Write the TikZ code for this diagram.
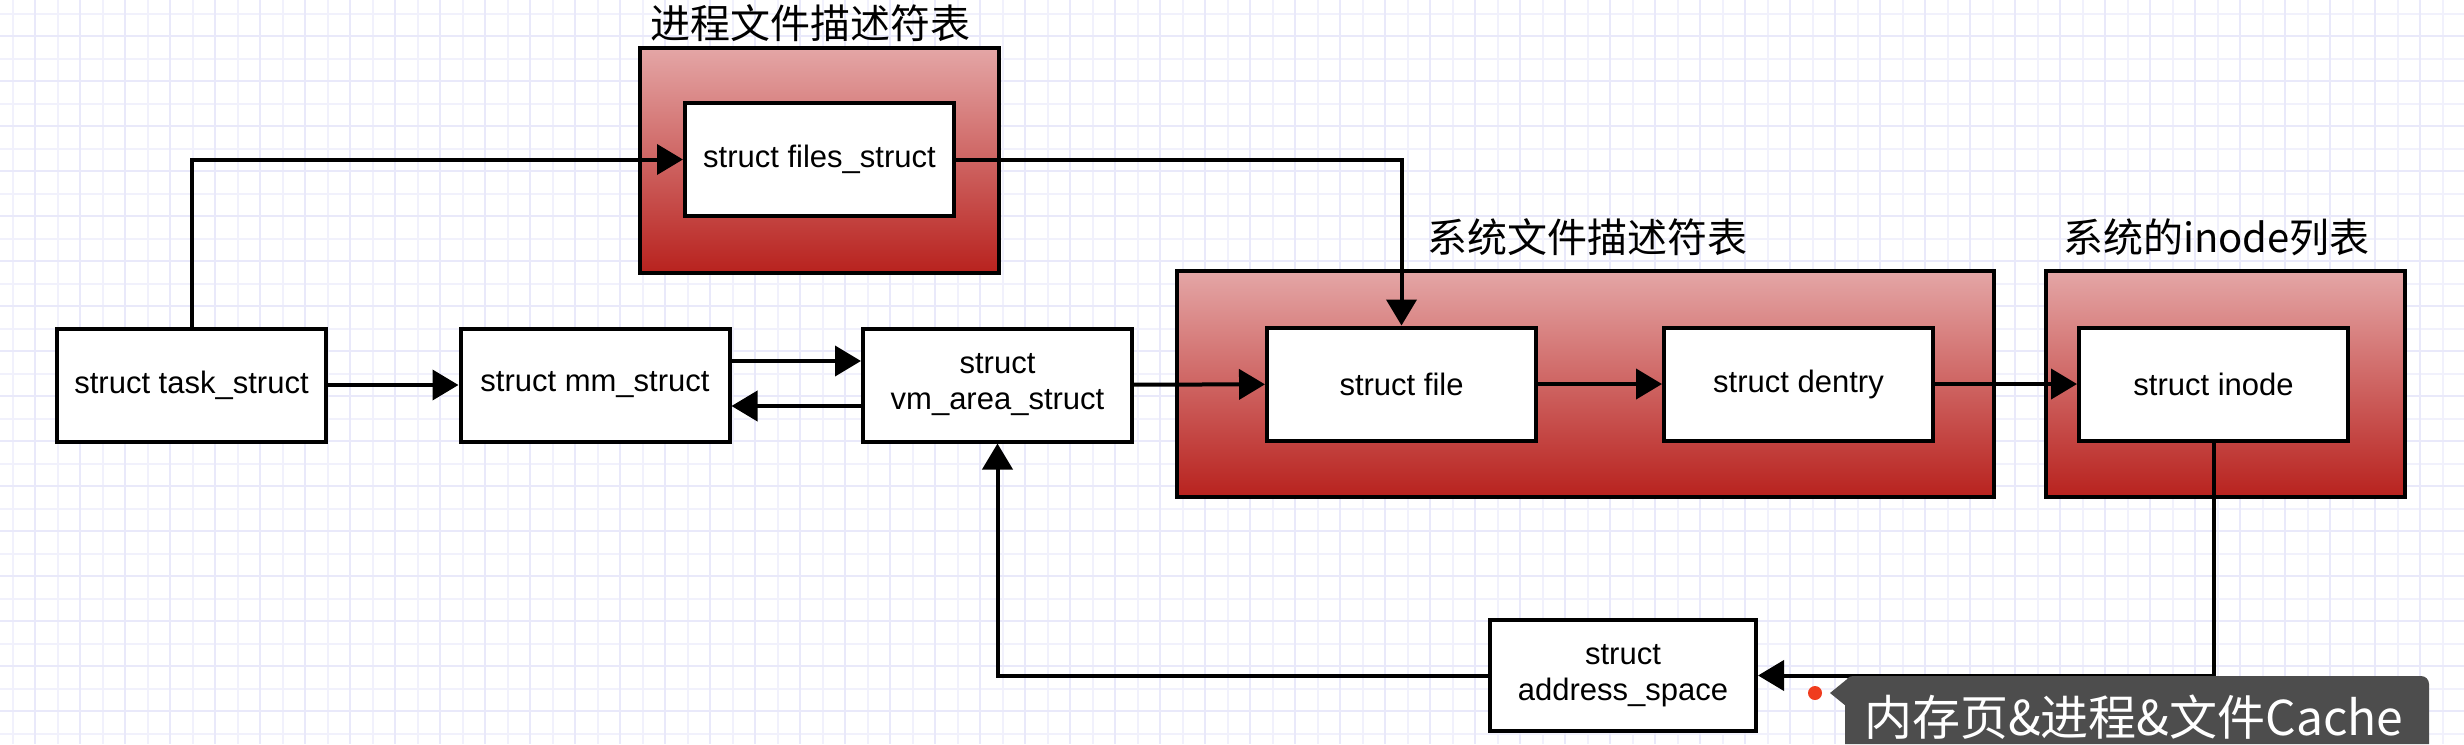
\documentclass[tikz,border=0pt]{standalone}
\usepackage{fontspec}
\setmainfont{Liberation Sans}
\newfontfamily\cjk{Noto Sans CJK SC}
\usetikzlibrary{arrows.meta}
\definecolor{gridminor}{RGB}{241,241,252}
\definecolor{gridmajor}{RGB}{233,233,250}
\definecolor{redtop}{RGB}{228,166,166}
\definecolor{redbot}{RGB}{184,34,30}
\definecolor{tipgray}{RGB}{77,77,77}
\definecolor{dotred}{RGB}{240,60,30}
\begin{document}
\begin{tikzpicture}[x=1pt,y=-1pt,
  box/.style={draw=black, line width=4pt, fill=white, minimum width=269pt, minimum height=113pt, inner sep=0pt, font=\fontsize{31}{36}\selectfont, align=center},
  group/.style={draw=black, line width=4pt, top color=redtop, bottom color=redbot, inner sep=0pt},
  title/.style={font=\cjk\fontsize{40}{44}\selectfont, anchor=south, inner sep=0pt},
  arr/.style={line width=4pt, -{Triangle[length=26pt,width=30pt]}},
  gmin/.style={draw=gridminor, line width=2pt},
  gmaj/.style={draw=gridmajor, line width=2pt}
]
\useasboundingbox (0,0) rectangle (2464,744);
\fill[white] (0,0) rectangle (2464,744);
% grid
\foreach \x in {12.5,57.5,...,2464} \draw[gmin] (\x,0) -- (\x,744);
\foreach \y in {13.5,58.5,...,744} \draw[gmin] (0,\y) -- (2464,\y);
\foreach \x in {35,80,...,2464} \draw[gmaj] (\x,0) -- (\x,744);
\foreach \y in {36,81,...,744} \draw[gmaj] (0,\y) -- (2464,\y);

% groups
\node[group, minimum width=359pt, minimum height=225pt] (g1) at (819.5,160.5) {};
\node[group, minimum width=817pt, minimum height=226pt] (g2) at (1585.5,384) {};
\node[group, minimum width=359pt, minimum height=226pt] (g3) at (2225.5,384) {};
\node[title] (t1) at ([xshift=-9pt,yshift=4pt]g1.north) {进程文件描述符表};
\node[title] (t2) at ([xshift=2pt,yshift=13pt]g2.north) {系统文件描述符表};
\node[title] (t3) at ([xshift=-9pt,yshift=13pt]g3.north) {系统的inode列表};

% boxes
\node[box] (task) at (191.5,385) {struct task\_struct};
\node[box] (mm) at (595,385) {struct mm\_struct};
\node[box] (vm) at (997.5,385) {struct\\vm\_area\_struct};
\node[box] (files) at (819.5,159.5) {struct files\_struct};
\node[box] (file) at (1401.5,384) {struct file};
\node[box] (dentry) at (1798.5,384) {struct dentry};
\node[box] (inode) at (2213.5,384) {struct inode};
\node[box, minimum width=266pt, minimum height=111pt] (addr) at (1623,675.5) {struct\\address\_space};

% connectors
\draw[arr] (task) -- (mm);
\draw[arr] ([yshift=24pt]mm.east) -- ([yshift=24pt]vm.west);
\draw[arr] ([yshift=-21pt]vm.west) -- ([yshift=-21pt]mm.east);
\draw[arr] (vm) -- (file);
\draw[arr] (file) -- (dentry);
\draw[arr] (dentry) -- (inode);
\draw[arr] (task.north) |- (files.west);
\draw[arr] (files.east) -| (file.north);
\draw[arr] (inode.south) |- (addr.east);
\draw[arr] (addr.west) -| (vm.south);

% overlay tooltip
\fill[dotred] (1815,693) circle (7pt);
\fill[tipgray] (1830,693) -- (1846,680) -- (1846,706) -- cycle;
\fill[tipgray] (1845,744) [rounded corners=8pt] -- (1845,676) -- (2429,676) [sharp corners] -- (2429,744) -- cycle;
\node[font=\cjk\fontsize{48}{50}\selectfont, text=white, anchor=base west, inner sep=0pt] (cache) at (1864,735) {内存页\&进程\&文件Cache};
\end{tikzpicture}
\end{document}
